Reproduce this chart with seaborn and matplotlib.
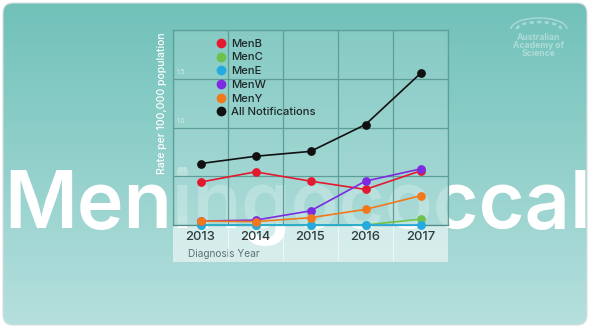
import numpy as np
import pandas as pd
import matplotlib
matplotlib.use("Agg")
import matplotlib.pyplot as plt
import matplotlib.transforms as mtransforms
from matplotlib.patches import FancyBboxPatch, Rectangle, Arc
from matplotlib.lines import Line2D
import seaborn as sns

# ---------------- data ----------------
years = [2013, 2014, 2015, 2016, 2017]
series_names = ["MenB", "MenC", "MenE", "MenW", "MenY", "All Notifications"]
men_b = [0.44, 0.545, 0.45, 0.365, 0.555]
men_c = [0.0, 0.0, 0.0, 0.0, 0.06]
men_e = [0.0, 0.0, 0.0, 0.0, 0.0]
men_w = [0.04, 0.05, 0.145, 0.45, 0.575]
men_y = [0.04, 0.035, 0.075, 0.16, 0.30]
all_notif = [0.63, 0.705, 0.755, 1.03, 1.555]
y_ticks = [0.0, 0.5, 1.0, 1.5, 2.0]
y_tick_labels = ["0.0", "0.5", "1.0", "1.5", ""]
colors = ["#e3192f", "#6cc24a", "#25a9e1", "#7d2ae0", "#f2791b", "#111111"]
title_word = "Meningococcal"
logo_lines = ["Australian", "Academy of", "Science"]

values = [men_b, men_c, men_e, men_w, men_y, all_notif]
df = pd.DataFrame({
    "year": np.tile(years, len(series_names)),
    "rate": np.concatenate(values),
    "series": np.repeat(series_names, len(years)),
})

# ---------------- style ----------------
sns.set_theme(style="white")
plt.rcParams["font.family"] = ["Inter", "DejaVu Sans"]

W, H = 590, 328
fig = plt.figure(figsize=(W / 100, H / 100), dpi=100, facecolor="white")

# background axes in pixel coordinates
bg = fig.add_axes([0, 0, 1, 1])
bg.set_xlim(0, W)
bg.set_ylim(H, 0)
bg.axis("off")

top_c = np.array([0x70, 0xc1, 0xb9]) / 255
bot_c = np.array([0xb6, 0xe0, 0xde]) / 255
t = np.linspace(0, 1, 200)[:, None]
grad = (top_c[None, :] * (1 - t) + bot_c[None, :] * t)[:, None, :]
grad = np.repeat(grad, 2, axis=1)
border = FancyBboxPatch((3, 3), W - 6, H - 6, boxstyle="round,pad=0,rounding_size=10",
                        facecolor="none", edgecolor="#d9dede", lw=0.8, zorder=5)
bg.add_patch(border)
im = bg.imshow(grad, extent=(0, W, H, 0), aspect="auto", zorder=1, interpolation="bilinear")
im.set_clip_path(border)

# big background word, fitted to the reference width
word = bg.text(4, 228, title_word, fontsize=59, fontweight="semibold", color="white",
               ha="left", va="baseline", zorder=2)
fig.canvas.draw()
bb = word.get_window_extent()
word.set_fontsize(59 * 586 / bb.width)

# logo
for i, line in enumerate(logo_lines):
    bg.text(539, 37 + i * 8.3, line, fontsize=6.2, fontweight="bold", color="white",
            alpha=0.4, ha="center", va="center", zorder=2)
bg.add_patch(Arc((539, 29), 56, 22, theta1=180, theta2=360, color="white", alpha=0.4, lw=1.0, zorder=2))
bg.add_patch(Arc((539, 29), 44, 14, theta1=180, theta2=360, color="white", alpha=0.35, lw=2.0,
                 ls=(0, (1.5, 1.2)), zorder=2))

# chart panel (covers big word partly) and label strip
ax_l, ax_r, ax_t, ax_b = 173, 448, 30, 225
i0, i1 = int(ax_t / H * 200), int(ax_b / H * 200)
panel_grad = grad[i0:i1] * 0.85 + 0.15
bg.imshow(panel_grad, extent=(ax_l, ax_r, ax_b, ax_t), aspect="auto", alpha=0.8,
          zorder=3, interpolation="bilinear")
bg.add_patch(Rectangle((ax_l, ax_b), ax_r - ax_l, 37, facecolor="white", alpha=0.55,
                       edgecolor="none", zorder=3))

# ---------------- chart ----------------
ax = fig.add_axes([ax_l / W, 1 - ax_b / H, (ax_r - ax_l) / W, (ax_b - ax_t) / H])
ax.set_facecolor("none")

sns.lineplot(data=df, x="year", y="rate", hue="series", hue_order=series_names,
             palette=colors, marker="o", markersize=6.3, markeredgewidth=0,
             linewidth=1.2, errorbar=None, legend=False, ax=ax)
for ln in ax.get_lines():
    ln.set_clip_on(False)
    ln.set_zorder(3)

ax.set_xlim(2012.5, 2017.5)
ax.set_ylim(0, 2.0)
ax.set_xticks(years)
ax.set_xticks([y - 0.5 for y in years] + [years[-1] + 0.5], minor=True)
ax.set_yticks(y_ticks, labels=y_tick_labels)
grid_c = "#5d9e99"
ax.grid(which="minor", axis="x", color=grid_c, lw=0.9)
ax.grid(which="major", axis="y", color=grid_c, lw=0.9)
ax.grid(which="major", axis="x", visible=False)
for sp in ax.spines.values():
    sp.set_color(grid_c)
    sp.set_linewidth(0.9)
ax.spines["bottom"].set_color("#4f8c88")

ax.tick_params(axis="x", which="both", length=0, pad=4, labelsize=9.3, labelcolor="#2d3b3d")
ax.tick_params(axis="y", which="both", length=0, pad=-3, labelsize=4.8, labelcolor="#d3ebe8")
for lab in ax.get_xticklabels():
    lab.set_fontweight("medium")
offset = mtransforms.ScaledTranslation(0, 2.5 / 72, fig.dpi_scale_trans)
for lab in ax.get_yticklabels():
    lab.set_horizontalalignment("left")
    lab.set_verticalalignment("bottom")
    lab.set_transform(lab.get_transform() + offset)

# faint separators in the label strip
for x in [y + 0.5 for y in years[:-1]]:
    ax.axvline(x, ymin=-0.18, ymax=0, color="white", alpha=0.6, lw=0.8, clip_on=False)

ax.set_xlabel("Diagnosis Year", fontsize=7.3, color="#5e7276")
ax.xaxis.set_label_coords((188 - ax_l) / (ax_r - ax_l), -0.125)
ax.xaxis.label.set_horizontalalignment("left")
ax.xaxis.label.set_verticalalignment("top")

ax.set_ylabel("Rate per 100,000 population", fontsize=7.5, fontweight="medium", color="white")
ax.yaxis.set_label_coords((162 - ax_l) / (ax_r - ax_l), (ax_b - 103) / (ax_b - ax_t))
ax.yaxis.label.set_verticalalignment("center")

handles = [Line2D([], [], ls="none", marker="o", markersize=7, markeredgewidth=0, color=c)
           for c in colors]
leg = ax.legend(handles, series_names, loc="upper left", bbox_to_anchor=(0.159, 0.955),
                frameon=False, fontsize=8.1, handlelength=0.8, handletextpad=0.5,
                labelspacing=0.33, borderpad=0, borderaxespad=0, labelcolor="#1e2828")
for txt in leg.get_texts():
    txt.set_fontweight("medium")

fig.savefig("out.png", dpi=100, facecolor="white")
